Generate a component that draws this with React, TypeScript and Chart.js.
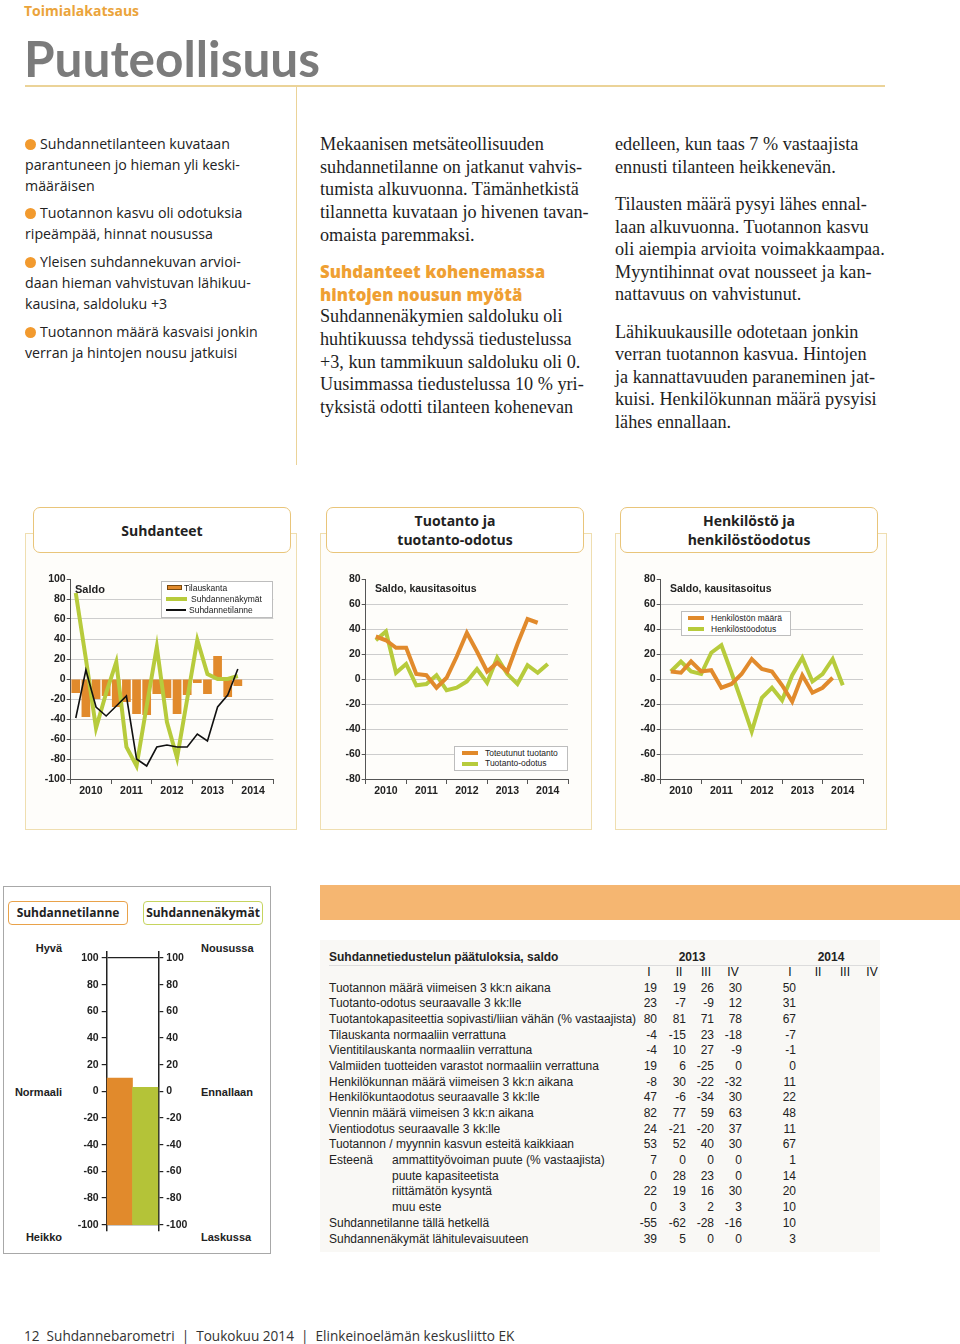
import React, { useEffect, useRef } from "react";
import { Chart, registerables } from "chart.js";
Chart.register(...registerables);

const SANS = "'Open Sans', Lato, sans-serif";
const LATO = "Lato, 'Open Sans', sans-serif";
const SERIF = "'Liberation Serif', 'DejaVu Serif', serif";
const ARIAL = "'Liberation Sans', Arial, sans-serif";

const ORANGE = "#e18a2c";
const GREEN = "#b7cb3c";
const GAUGE_GREEN = "#b4c338";
const GOLD = "#ebd398";
const PANEL_BORDER = "#efdeb0";
const TEXT_ORANGE = "#efa033";

// ---------- DATA ----------
const years = ["2010", "2011", "2012", "2013", "2014"];

// Suhdanteet (quarterly 2010 I – 2014 I)
const tilauskanta = [-14, -38, -20, -17, -28, -23, -35, -36, -15, -19, -35, -16, -4, -15, 23, -18, -7];
const suhdannenakymat = [86, 20, -49, -14, 17, -68, -87, -27, 32, -43, -79, -20, 39, 5, 0, 0, 3];
const suhdannetilanne = [-39, 9, -28, -37, -27, -17, -80, -87, -68, -66, -68, -68, -55, -62, -28, -16, 10];

// Tuotanto ja tuotanto-odotus
const toteutunutTuotanto = [34, 31, 25, 25, 4, 3, -7, 1, 18, 37, 22, 6, 13, 6, 28, 48, 45];
const tuotantoOdotus = [31, 38, 5, 12, -5, -4, 3, -9, -7, -2, 8, -3, 17, 4, -4, 11, 5, 12];

// Henkilöstö ja henkilöstöodotus
const henkilostonMaara = [6, 5, 14, 6, 7, -7, -4, 4, 16, 8, 6, -5, -18, 3, -11, -7, 1];
const henkilostoOdotus = [6, 14, 6, 4, 21, 27, 5, -18, -42, -15, -7, -17, 3, 17, -2, 4, 16, -5];

// Gauge
const gaugeLabels = ["Suhdannetilanne", "Suhdannenäkymät"];
const gaugeValues = [10, 3];
const gaugeBase = -100;
const gaugeTicks = [100, 80, 60, 40, 20, 0, -20, -40, -60, -80, -100];

// Table
const tableQuarters2013 = ["I", "II", "III", "IV"];
const tableQuarters2014 = ["I", "II", "III", "IV"];
const tableRows: [string, string, number[]][] = [
  ["Tuotannon määrä viimeisen 3 kk:n aikana", "", [19, 19, 26, 30, 50]],
  ["Tuotanto-odotus seuraavalle 3 kk:lle", "", [23, -7, -9, 12, 31]],
  ["Tuotantokapasiteettia sopivasti/liian vähän (% vastaajista)", "", [80, 81, 71, 78, 67]],
  ["Tilauskanta normaaliin verrattuna", "", [-4, -15, 23, -18, -7]],
  ["Vientitilauskanta normaaliin verrattuna", "", [-4, 10, 27, -9, -1]],
  ["Valmiiden tuotteiden varastot normaaliin verrattuna", "", [19, 6, -25, 0, 0]],
  ["Henkilökunnan määrä viimeisen 3 kk:n aikana", "", [-8, 30, -22, -32, 11]],
  ["Henkilökuntaodotus seuraavalle 3 kk:lle", "", [47, -6, -34, 30, 22]],
  ["Viennin määrä viimeisen 3 kk:n aikana", "", [82, 77, 59, 63, 48]],
  ["Vientiodotus seuraavalle 3 kk:lle", "", [24, -21, -20, 37, 11]],
  ["Tuotannon / myynnin kasvun esteitä kaikkiaan", "", [53, 52, 40, 30, 67]],
  ["Esteenä", "ammattityövoiman puute (% vastaajista)", [7, 0, 0, 0, 1]],
  ["", "puute kapasiteetista", [0, 28, 23, 0, 14]],
  ["", "riittämätön kysyntä", [22, 19, 16, 30, 20]],
  ["", "muu este", [0, 3, 2, 3, 10]],
  ["Suhdannetilanne tällä hetkellä", "", [-55, -62, -28, -16, 10]],
  ["Suhdannenäkymät lähitulevaisuuteen", "", [39, 5, 0, 0, 3]],
];

// ---------- helpers ----------
const toPoints = (arr: number[], offset: number) => arr.map((v, i) => ({ x: i + offset, y: v }));

function ChartCanvas({ left, top, width, height, build }: any) {
  const ref = useRef<HTMLCanvasElement>(null);
  useEffect(() => {
    const c = new Chart(ref.current as HTMLCanvasElement, build());
    return () => c.destroy();
  }, []);
  return (
    <canvas
      ref={ref}
      width={width}
      height={height}
      style={{ position: "absolute", left, top, width, height }}
    />
  );
}

function yearAxis() {
  return {
    type: "category",
    labels: years,
    offset: true,
    grid: { offset: true, drawOnChartArea: false, tickLength: 5, color: "#555", lineWidth: 1 },
    border: { color: "#555", width: 1 },
    ticks: { font: { size: 10.5, weight: "bold", family: ARIAL }, color: "#222", padding: 1, maxRotation: 0, autoSkip: false },
    afterFit: (s: any) => { s.height = 26; },
  };
}

function valueAxis(min: number, max: number) {
  return {
    min, max,
    ticks: { stepSize: 20, font: { size: 10.5, weight: "bold", family: ARIAL }, color: "#222", padding: 1 },
    grid: {
      color: (ctx: any) => (ctx.tick && ctx.tick.value === max ? "rgba(0,0,0,0)" : "#cdcdcd"),
      tickColor: "#555",
      tickLength: 4,
      lineWidth: 1,
    },
    border: { color: "#555", width: 1 },
    afterFit: (s: any) => { s.width = 45.7; },
  };
}

const quarterAxis = { type: "linear", min: 0, max: 20, display: false, offset: false, grid: { offset: false } };

const baseOptions = (padRight: number) => ({
  responsive: false,
  animation: false,
  devicePixelRatio: 1,
  layout: { padding: { left: 0, top: 14, right: padRight, bottom: 0 } },
  plugins: { legend: { display: false }, tooltip: { enabled: false } },
});

const lineDs = (label: string, data: any, color: string, width: number, order: number) => ({
  type: "line",
  label,
  data,
  borderColor: color,
  backgroundColor: color,
  borderWidth: width,
  pointRadius: 0,
  tension: 0,
  fill: false,
  xAxisID: "q",
  order,
  borderJoinStyle: "miter",
});

function buildSuhdanteet() {
  return {
    type: "line",
    data: {
      datasets: [
        lineDs("Suhdannetilanne", toPoints(suhdannetilanne, 0.5), "#111", 1.6, 1),
        lineDs("Suhdannenäkymät", toPoints(suhdannenakymat, 0.5), GREEN, 4, 2),
        {
          type: "bar",
          label: "Tilauskanta",
          data: toPoints(tilauskanta, 0.5),
          backgroundColor: ORANGE,
          borderWidth: 0,
          barPercentage: 0.86,
          categoryPercentage: 1,
          xAxisID: "q",
          order: 3,
        },
      ],
    },
    options: {
      ...baseOptions(31.7),
      scales: { x: yearAxis(), q: quarterAxis, y: valueAxis(-100, 100) },
    },
  };
}

function buildTwoLines(a: number[], b: number[], la: string, lb: string) {
  return () => ({
    type: "line",
    data: {
      datasets: [
        lineDs(la, toPoints(a, 1), ORANGE, 4, 1),
        lineDs(lb, toPoints(b, 1), GREEN, 4, 2),
      ],
    },
    options: {
      ...baseOptions(32),
      scales: { x: yearAxis(), q: quarterAxis, y: valueAxis(-80, 80) },
    },
  });
}

function buildGauge() {
  const axis = (pos: string, onArea: boolean) => ({
    position: pos,
    min: -104.5,
    max: 104.5,
    afterBuildTicks: (s: any) => { s.ticks = gaugeTicks.map((v) => ({ value: v })); },
    ticks: { font: { size: 10.5, weight: "bold", family: ARIAL }, color: "#222", padding: 3 },
    grid: {
      drawOnChartArea: onArea,
      color: (ctx: any) => (ctx.tick && Math.abs(ctx.tick.value) === 100 ? "#222" : "rgba(0,0,0,0)"),
      tickColor: "#222",
      tickLength: 5,
      lineWidth: 1.2,
    },
    border: { color: "#222", width: 1.5 },
    afterFit: (s: any) => { s.width = 51.7; },
  });
  return {
    type: "bar",
    data: {
      labels: gaugeLabels,
      datasets: [
        {
          data: gaugeValues.map((v) => [gaugeBase, v]),
          backgroundColor: [ORANGE, GAUGE_GREEN],
          borderWidth: 0,
          barPercentage: 1,
          categoryPercentage: 1,
        },
      ],
    },
    options: {
      responsive: false,
      animation: false,
      devicePixelRatio: 1,
      layout: { padding: { left: 0, top: 12, right: 10, bottom: 7 } },
      plugins: { legend: { display: false }, tooltip: { enabled: false } },
      scales: { x: { display: false }, y: axis("left", true), y2: axis("right", false) },
    },
  };
}

// ---------- text helpers ----------
function T({ x, y, size, children, family = SANS, weight = 400, color = "#222", align = "left", style = {} }: any) {
  const lh = size * 1.25;
  const s: any = {
    position: "absolute",
    top: y - lh / 2,
    fontSize: size,
    lineHeight: lh + "px",
    fontFamily: family,
    fontWeight: weight,
    color,
    whiteSpace: "nowrap",
    ...style,
  };
  if (align === "left") s.left = x;
  else if (align === "right") s.right = 960 - x;
  else { s.left = x; s.transform = "translateX(-50%)"; }
  return <div style={s}>{children}</div>;
}

const Box = ({ l, t, w, h, style }: any) => (
  <div style={{ position: "absolute", left: l, top: t, width: w, height: h, boxSizing: "border-box", ...style }} />
);

function Bullet({ y }: any) {
  return <div style={{ position: "absolute", left: 25, top: y - 5.5, width: 11, height: 11, borderRadius: "50%", background: "#f29a2e" }} />;
}

const leftParas = [
  { ys: [144, 165, 186], lines: ["Suhdannetilanteen kuvataan", "parantuneen jo hieman yli keski-", "määräisen"] },
  { ys: [213, 234], lines: ["Tuotannon kasvu oli odotuksia", "ripeämpää, hinnat nousussa"] },
  { ys: [262, 283, 304], lines: ["Yleisen suhdannekuvan arvioi-", "daan hieman vahvistuvan lähikuu-", "kausina, saldoluku +3"] },
  { ys: [332, 353], lines: ["Tuotannon määrä kasvaisi jonkin", "verran ja hintojen nousu jatkuisi"] },
];

const midLines: [number, string, boolean][] = [
  [144, "Mekaanisen metsäteollisuuden", false],
  [167, "suhdannetilanne on jatkanut vahvis-", false],
  [189, "tumista alkuvuonna. Tämänhetkistä", false],
  [212, "tilannetta kuvataan jo hivenen tavan-", false],
  [235, "omaista paremmaksi.", false],
  [271, "Suhdanteet kohenemassa", true],
  [294, "hintojen nousun myötä", true],
  [316, "Suhdannenäkymien saldoluku oli", false],
  [339, "huhtikuussa tehdyssä tiedustelussa", false],
  [362, "+3, kun tammikuun saldoluku oli 0.", false],
  [384, "Uusimmassa tiedustelussa 10 % yri-", false],
  [407, "tyksistä odotti tilanteen kohenevan", false],
];

const rightLines: [number, string][] = [
  [144, "edelleen, kun taas 7 % vastaajista"],
  [167, "ennusti tilanteen heikkenevän."],
  [204, "Tilausten määrä pysyi lähes ennal-"],
  [227, "laan alkuvuonna. Tuotannon kasvu"],
  [249, "oli aiempia arvioita voimakkaampaa."],
  [272, "Myyntihinnat ovat nousseet ja kan-"],
  [294, "nattavuus on vahvistunut."],
  [332, "Lähikuukausille odotetaan jonkin"],
  [354, "verran tuotannon kasvua. Hintojen"],
  [377, "ja kannattavuuden paraneminen jat-"],
  [399, "kuisi. Henkilökunnan määrä pysyisi"],
  [422, "lähes ennallaan."],
];

function Panel({ x, hx, title }: any) {
  return (
    <>
      <Box l={x} t={533} w={272} h={297} style={{ border: `1px solid ${PANEL_BORDER}`, background: "#fefdfa" }} />
      <div
        style={{
          position: "absolute", left: hx, top: 507, width: 258, height: 46, boxSizing: "border-box",
          border: "1.5px solid #e9c57a", borderRadius: 7, background: "#fff",
          display: "flex", alignItems: "center", justifyContent: "center", textAlign: "center",
          fontFamily: SANS, fontWeight: 700, fontSize: 14, lineHeight: "19px", color: "#222",
        }}
      >
        <div>{title}</div>
      </div>
    </>
  );
}

function LegendLine({ x, y, w, color, thick }: any) {
  return <div style={{ position: "absolute", left: x, top: y - thick / 2, width: w, height: thick, background: color }} />;
}

const tableColRight = [657, 686, 714, 742, 796];
const tableQ2013X = [649, 679, 706, 733];
const tableQ2014X = [790, 818, 845, 872];

export default function App() {
  return (
    <div style={{ position: "absolute", left: 0, top: 0, width: 960, height: 1344, background: "#fff", overflow: "hidden" }}>
      {/* header */}
      <T x={24} y={11} size={14} weight={700} color="#eba43b">Toimialakatsaus</T>
      <T x={24} y={59} size={49.5} weight={700} family={LATO} color="#7b7b7b">Puuteollisuus</T>
      <Box l={25} t={85} w={860} h={1.5} style={{ background: GOLD }} />
      <Box l={295.5} t={85} w={1.5} h={380} style={{ background: GOLD }} />

      {/* left column bullets */}
      {leftParas.map((p, pi) => (
        <React.Fragment key={pi}>
          <Bullet y={p.ys[0]} />
          {p.lines.map((ln, i) => (
            <T key={i} x={i === 0 ? 40 : 25} y={p.ys[i]} size={14.2} color="#222">{ln}</T>
          ))}
        </React.Fragment>
      ))}

      {/* middle column */}
      {midLines.map(([y, s, h], i) =>
        h ? (
          <T key={i} x={320} y={y} size={16.8} weight={800} color={TEXT_ORANGE}>{s}</T>
        ) : (
          <T key={i} x={320} y={y} size={18.2} family={SERIF} color="#1e1e1e">{s}</T>
        )
      )}
      {/* right column */}
      {rightLines.map(([y, s], i) => (
        <T key={i} x={615} y={y} size={18.2} family={SERIF} color="#1e1e1e">{s}</T>
      ))}

      {/* chart panels */}
      <Panel x={25} hx={33} title={<>Suhdanteet</>} />
      <Panel x={320} hx={326} title={<>Tuotanto ja<br />tuotanto-odotus</>} />
      <Panel x={615} hx={620} title={<>Henkilöstö ja<br />henkilöstöodotus</>} />

      <ChartCanvas left={25} top={565} width={280} height={240} build={buildSuhdanteet} />
      <ChartCanvas left={320} top={565} width={280} height={240} build={buildTwoLines(toteutunutTuotanto, tuotantoOdotus, "Toteutunut tuotanto", "Tuotanto-odotus")} />
      <ChartCanvas left={615} top={565} width={280} height={240} build={buildTwoLines(henkilostonMaara, henkilostoOdotus, "Henkilöstön määrä", "Henkilöstöodotus")} />

      {/* chart 1 labels & legend */}
      <T x={75} y={590} size={11} weight={700} family={ARIAL}>Saldo</T>
      <Box l={161} t={581} w={112} h={37} style={{ background: "#fff", border: "1px solid #bdbdbd" }} />
      <Box l={167} t={585} w={15} h={5} style={{ background: ORANGE, border: "0.5px solid #7a4a10" }} />
      <T x={184} y={588} size={8.5} family={ARIAL}>Tilauskanta</T>
      <LegendLine x={166} y={599} w={21} color={GREEN} thick={3.5} />
      <T x={191} y={599} size={8.5} family={ARIAL}>Suhdannenäkymät</T>
      <LegendLine x={166} y={610} w={20} color="#111" thick={1.5} />
      <T x={189} y={610} size={8.5} family={ARIAL}>Suhdannetilanne</T>

      {/* chart 2 */}
      <T x={375} y={589} size={10.5} weight={700} family={ARIAL}>Saldo, kausitasoitus</T>
      <Box l={454} t={746} w={114} h={25} style={{ background: "#fff", border: "1px solid #bdbdbd" }} />
      <LegendLine x={462} y={753} w={16} color={ORANGE} thick={4} />
      <T x={485} y={753} size={8.5} family={ARIAL}>Toteutunut tuotanto</T>
      <LegendLine x={462} y={763.5} w={16} color={GREEN} thick={4} />
      <T x={485} y={763.5} size={8.5} family={ARIAL}>Tuotanto-odotus</T>

      {/* chart 3 */}
      <T x={670} y={589} size={10.5} weight={700} family={ARIAL}>Saldo, kausitasoitus</T>
      <Box l={681} t={611} w={110} h={25} style={{ background: "#fff", border: "1px solid #bdbdbd" }} />
      <LegendLine x={688} y={618} w={16} color={ORANGE} thick={4} />
      <T x={711} y={618} size={8.5} family={ARIAL}>Henkilöstön määrä</T>
      <LegendLine x={688} y={629} w={16} color={GREEN} thick={4} />
      <T x={711} y={629} size={8.5} family={ARIAL}>Henkilöstöodotus</T>

      {/* gauge panel */}
      <Box l={3} t={886} w={268} h={368} style={{ border: "1px solid #a8a8a8" }} />
      <div style={{ position: "absolute", left: 8, top: 901, width: 120, height: 24, boxSizing: "border-box", border: "1.5px solid #e9a24a", borderRadius: 4, fontFamily: SANS, fontWeight: 700, fontSize: 12, lineHeight: "21px", textAlign: "center", color: "#222" }}>Suhdannetilanne</div>
      <div style={{ position: "absolute", left: 143, top: 901, width: 120, height: 24, boxSizing: "border-box", border: "1.5px solid #c6d45e", borderRadius: 4, fontFamily: SANS, fontWeight: 700, fontSize: 12, lineHeight: "21px", textAlign: "center", color: "#222" }}>Suhdannenäkymät</div>
      <T x={62} y={949} size={11} weight={700} family={ARIAL} align="right">Hyvä</T>
      <T x={62} y={1093} size={11} weight={700} family={ARIAL} align="right">Normaali</T>
      <T x={62} y={1238} size={11} weight={700} family={ARIAL} align="right">Heikko</T>
      <T x={201} y={949} size={11} weight={700} family={ARIAL}>Nousussa</T>
      <T x={201} y={1093} size={11} weight={700} family={ARIAL}>Ennallaan</T>
      <T x={201} y={1238} size={11} weight={700} family={ARIAL}>Laskussa</T>
      <ChartCanvas left={55} top={940} width={165} height={300} build={buildGauge} />

      {/* orange band + table */}
      <Box l={320} t={885} w={640} h={35} style={{ background: "#f5b671" }} />
      <Box l={320} t={940} w={560} h={312} style={{ background: "#f9f8f5" }} />
      <T x={329} y={957} size={12} weight={700} family={ARIAL}>Suhdannetiedustelun päätuloksia, saldo</T>
      <T x={692} y={957} size={12} weight={700} family={ARIAL} align="center">2013</T>
      <T x={831} y={957} size={12} weight={700} family={ARIAL} align="center">2014</T>
      <Box l={329} t={965} w={548} h={1} style={{ background: "#dcdcdc" }} />
      {tableQuarters2013.map((q, i) => (
        <T key={"a" + i} x={tableQ2013X[i]} y={972} size={12} family={ARIAL} align="center" color="#111">{q}</T>
      ))}
      {tableQuarters2014.map((q, i) => (
        <T key={"b" + i} x={tableQ2014X[i]} y={972} size={12} family={ARIAL} align="center" color="#111">{q}</T>
      ))}
      {tableRows.map(([label, sub, vals], r) => {
        const y = 988 + r * 15.69;
        return (
          <React.Fragment key={r}>
            {label && <T x={329} y={y} size={12} family={ARIAL} color="#222">{label}</T>}
            {sub && <T x={392} y={y} size={12} family={ARIAL} color="#222">{sub}</T>}
            {vals.map((v, c) => (
              <T key={c} x={tableColRight[c]} y={y} size={12} family={ARIAL} align="right" color="#222">{String(v)}</T>
            ))}
          </React.Fragment>
        );
      })}

      {/* footer */}
      <T x={24} y={1335} size={13.6} color="#333">{"12\u00a0\u00a0Suhdannebarometri\u00a0\u00a0|\u00a0\u00a0Toukokuu 2014\u00a0\u00a0|\u00a0\u00a0Elinkeinoelämän keskusliitto EK"}</T>
    </div>
  );
}
